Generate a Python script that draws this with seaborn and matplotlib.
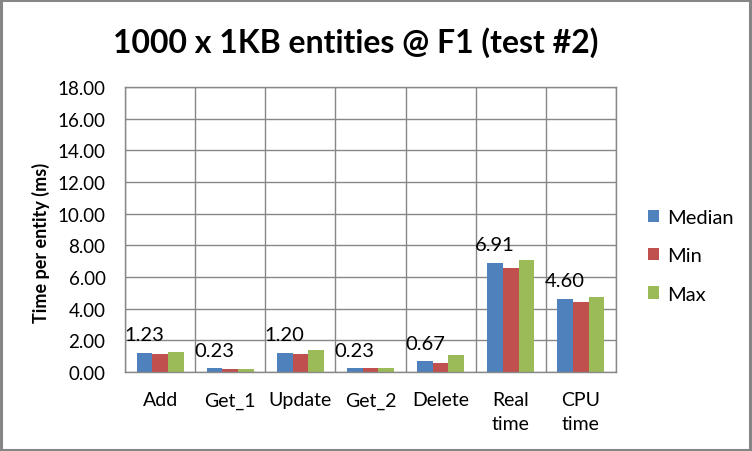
import matplotlib
matplotlib.use("Agg")
import matplotlib.pyplot as plt
from matplotlib.patches import Rectangle
from matplotlib.ticker import MultipleLocator, FixedLocator
import seaborn as sns
import pandas as pd

categories = ["Add", "Get_1", "Update", "Get_2", "Delete", "Real\ntime", "CPU\ntime"]
median_vals = [1.23, 0.23, 1.20, 0.23, 0.67, 6.91, 4.60]
min_vals = [1.14, 0.22, 1.13, 0.23, 0.59, 6.57, 4.45]
max_vals = [1.28, 0.22, 1.38, 0.27, 1.10, 7.07, 4.74]
series = ["Median", "Min", "Max"]
colors = ["#4F81BD", "#C0504D", "#9BBB59"]

rows = []
for s, vals in zip(series, [median_vals, min_vals, max_vals]):
    for c, v in zip(categories, vals):
        rows.append({"cat": c, "series": s, "value": v})
df = pd.DataFrame(rows)

sns.set_theme(style="white")
plt.rcParams["font.family"] = ["Lato", "DejaVu Sans"]

fig = plt.figure(figsize=(7.52, 4.52), dpi=100)
ax = fig.add_axes([125/752, 79/452, 491/752, 285/452])

sns.barplot(data=df, x="cat", y="value", hue="series", order=categories,
            hue_order=series, palette=colors, width=0.67, gap=0,
            saturation=1, ax=ax, legend=True, edgecolor="none")

ax.set_ylim(0, 18)
ax.set_xlim(-0.5, len(categories) - 0.5)
ax.yaxis.set_major_locator(MultipleLocator(2))
ax.yaxis.set_major_formatter(matplotlib.ticker.FormatStrFormatter("%.2f"))
ax.xaxis.set_minor_locator(FixedLocator([i - 0.5 for i in range(len(categories) + 1)]))

grid_c = "#878787"
ax.grid(True, axis="y", which="major", color=grid_c, linewidth=1)
ax.grid(True, axis="x", which="minor", color=grid_c, linewidth=1)
ax.set_axisbelow(True)
for sp in ax.spines.values():
    sp.set_color(grid_c)
    sp.set_linewidth(1)

ax.tick_params(axis="x", which="major", length=0, pad=14, labelsize=14, colors="#000000")
ax.tick_params(axis="x", which="minor", length=5, color=grid_c, width=1, direction="out")
ax.tick_params(axis="y", which="major", length=5, color=grid_c, width=1, direction="out",
               labelsize=13.5, pad=9, colors="#000000")
for lbl in ax.get_xticklabels():
    lbl.set_linespacing(1.45)
    lbl.set_verticalalignment("top")

ax.set_xlabel("")
ax.set_ylabel("")
fig.text(41/752, 1 - 243/452, "Time per entity (ms)", rotation=90, ha="center", va="center",
         fontsize=13, fontweight="bold", color="black")

# data labels for median series
med_container = ax.containers[0]
for bar, v in zip(med_container, median_vals):
    ax.annotate(f"{v:.2f}", (bar.get_x() + bar.get_width() / 2, bar.get_height()),
                xytext=(0, 7), textcoords="offset points", ha="center", va="bottom",
                fontsize=14.5, color="black")

fig.text(356/752, 1 - 43/452, "1000 x 1KB entities @ F1 (test #2)", ha="center", va="center",
         fontsize=23, fontweight="bold", color="black")

leg = ax.legend(loc="center left", bbox_to_anchor=(640/752, 1 - 257/452),
                bbox_transform=fig.transFigure, frameon=False, fontsize=14.5,
                handlelength=0.55, handleheight=0.55, handletextpad=0.4,
                labelspacing=1.05, borderaxespad=0)
for t in leg.get_texts():
    t.set_color("black")

fig.patches.append(Rectangle((0.0015, 0.002), 0.996, 0.995, transform=fig.transFigure,
                             fill=False, edgecolor="#868686", linewidth=2.2))

fig.savefig("out.png", dpi=100, facecolor="white")
